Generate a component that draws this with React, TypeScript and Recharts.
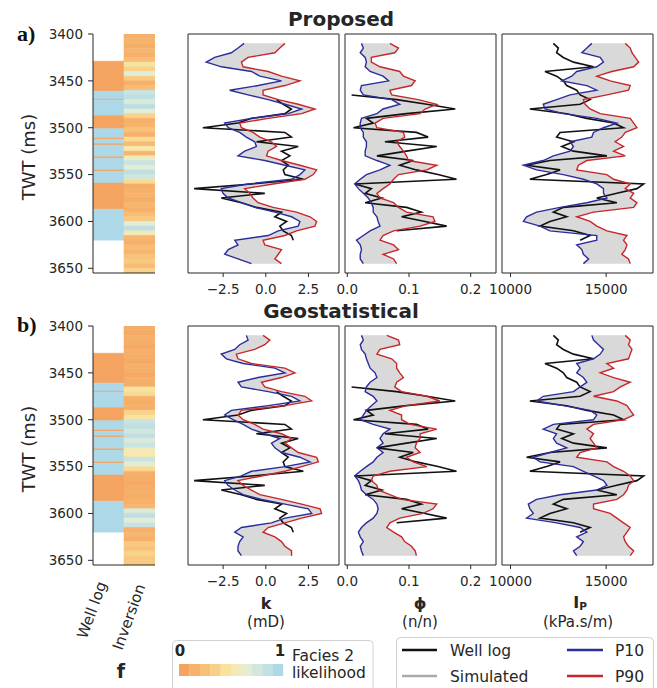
import React from 'react';
import { ComposedChart, Line, Area, XAxis, YAxis, ReferenceArea } from 'recharts';

// depth samples (TWT, ms) for all log curves
const depth = [
  3410, 3415, 3420, 3425, 3430, 3435, 3440, 3445, 3450, 3455, 3460, 3465, 3470, 3475, 3480, 3485,
  3490, 3495, 3500, 3505, 3510, 3515, 3520, 3525, 3530, 3535, 3540, 3545, 3550, 3555, 3560, 3565,
  3570, 3575, 3580, 3585, 3590, 3595, 3600, 3605, 3610, 3615, 3620, 3625, 3630, 3635, 3640, 3645,
];

// well log (same in both rows)
const kWell = [
  null, null, null, null, null, null, null, null, null, null, null, null,
  0.63, 1.02, 1.5, 1.12, -0.84, -1.63, -3.69, 1.12, 1.5, -0.55, 1.9, 0.92, 1.41, 0.92, 1.31, 1.02,
  1.12, 2.2, -0.84, -4.2, -0.06, -2.61, -1.43, -0.55, 0.92, 0.53, 1.22, 0.82, 1.02, 1.5, 1.61,
  null, null, null, null, null,
];
const phiWell = [
  null, null, null, null, null, null, null, null, null, null, null,
  0.007, 0.08, 0.129, 0.175, 0.096, 0.031, 0.042, 0.01, 0.112, 0.131, 0.061, 0.145, 0.096, 0.048,
  0.107, 0.085, 0.112, 0.147, 0.177, 0.012, 0.039, 0.029, 0.056, 0.029, 0.096, 0.12, 0.088, 0.126,
  0.161, 0.08,
  null, null, null, null, null, null, null,
];
const ipWell = [
  12240, 12500, 12410, 12760, 13290, 14340, 11800, 12410, 12760, 12940, 13460, 13640, 14160, 13640,
  11010, 12940, 13990, 15390, 15910, 12590, 12410, 13290, 12680, 13290, 15040, 12060, 10840, 12590,
  11890, 11010, 16960, 16610, 15560, 14510, 15560, 12760, 12240, 12940, 12060, 11540, 13290, 14160,
  13640, null, null, null, null, null,
];

// a) Proposed
const kP10Prop = [
  -1.27, -1.63, -2.02, -3.0, -3.49, -2.6, -0.84, -0.35, 0.92, -0.45, -2.12, -1.04, 0.14, 1.12, 2.1, 1.31,
  -0.84, -2.41, -2.2, -1.53, -1.14, -0.65, -0.55, -1.24, -1.63, -0.06, 1.12, 2.29, 2.0, 1.51, -1.04, -2.61,
  -2.51, -2.2, -1.43, -0.65, 0.53, 1.51, 2.0, 1.9, 0.73, 0.14, -1.82, -1.63, -2.2, -2.41, -1.63, -0.84,
];
const kP90Prop = [
  1.12, 0.82, 0.53, -1.04, -1.43, -1.33, 0.14, 0.92, 2.0, 1.12, -0.16, -0.16, 0.73, 1.9, 2.88, 2.1,
  0.14, -1.53, -1.43, -0.75, -0.35, 0.33, 0.63, 0.14, 0.04, 0.92, 2.0, 2.98, 2.78, 2.29, 0.43, -1.24,
  -0.94, -0.75, -0.45, 0.43, 1.8, 2.59, 2.98, 2.88, 1.8, 1.12, -0.16, -0.06, 0.92, 0.73, 0.53, 0.92,
];
const phiP10Prop = [
  0.023, 0.026, 0.021, 0.029, 0.031, 0.029, 0.037, 0.058, 0.067, 0.023, 0.021, 0.026, 0.072, 0.085, 0.058, 0.048,
  0.023, 0.021, 0.021, 0.026, 0.026, 0.031, 0.031, 0.029, 0.029, 0.048, 0.069, 0.053, 0.031, 0.021, 0.012, 0.018,
  0.026, 0.034, 0.039, 0.042, 0.042, 0.048, 0.05, 0.053, 0.037, 0.026, 0.015, 0.021, 0.023, 0.021, 0.021, 0.026,
];
const phiP90Prop = [
  0.069, 0.083, 0.077, 0.039, 0.039, 0.053, 0.085, 0.091, 0.11, 0.104, 0.069, 0.072, 0.115, 0.145, 0.126, 0.118,
  0.058, 0.045, 0.048, 0.091, 0.093, 0.08, 0.085, 0.091, 0.096, 0.099, 0.145, 0.129, 0.083, 0.075, 0.069, 0.058,
  0.048, 0.053, 0.075, 0.083, 0.096, 0.139, 0.142, 0.118, 0.075, 0.058, 0.053, 0.075, 0.083, 0.058, 0.075, 0.08,
];
const ipP10Prop = [
  14250, 13990, 13730, 14690, 14860, 14510, 13460, 13200, 12680, 13990, 14510, 13110, 12410, 11710, 11800, 12760,
  14510, 15560, 14860, 14340, 14250, 13110, 13290, 13110, 12240, 11710, 10670, 11360, 12760, 13810, 14510, 14860,
  14860, 15040, 13990, 12590, 11360, 10840, 10670, 11540, 12060, 14510, 14510, 13460, 13730, 13810, 14080, 13810,
];
const ipP90Prop = [
  16000, 16260, 16350, 16520, 16700, 16440, 15300, 14510, 15210, 16260, 16170, 15040, 13810, 13900, 14160, 14690,
  16260, 16440, 16610, 16000, 15820, 15470, 15910, 15390, 16000, 13990, 13550, 13460, 15040, 15390, 16260, 16000,
  16440, 16260, 16610, 16440, 14340, 13460, 14160, 14510, 15040, 16090, 15910, 16090, 16000, 15820, 16170, 16260,
];

// b) Geostatistical
const kP10Geo = [
  -1.14, -1.04, -1.53, -1.82, -2.61, -2.31, -1.33, 0.53, 1.12, -0.45, -1.63, -1.43, 0.14, 1.51, 2.0, 0.14,
  -2.02, -2.41, -1.92, -1.33, -0.84, -0.06, 0.82, 0.33, 0.53, 0.92, 2.0, 2.59, 1.12, -0.84, -1.43, -2.41,
  -2.22, -1.82, -1.33, -0.25, 1.12, 2.49, 2.69, 1.12, 0.33, -1.43, -1.82, -1.33, -1.53, -1.63, -1.63, -1.43,
];
const kP90Geo = [
  -0.16, 0.24, -0.06, -0.65, -1.73, -1.63, -0.84, 1.12, 1.71, 0.92, -0.25, -0.06, 0.92, 2.29, 2.69, 1.12,
  -1.43, -1.63, -1.33, -0.65, -0.16, 0.92, 1.51, 1.12, 1.51, 1.9, 2.98, 3.08, 2.1, 1.12, -0.25, -1.63,
  -1.33, -0.84, -0.35, 0.92, 2.1, 3.18, 3.27, 2.1, 1.12, 0.14, -0.16, 0.53, 0.92, 1.12, 1.51, 1.51,
];
const phiP10Geo = [
  0.023, 0.026, 0.021, 0.023, 0.029, 0.031, 0.034, 0.037, 0.045, 0.048, 0.037, 0.031, 0.029, 0.042, 0.048, 0.039,
  0.031, 0.026, 0.021, 0.042, 0.069, 0.058, 0.053, 0.058, 0.048, 0.058, 0.048, 0.042, 0.031, 0.021, 0.012, 0.018,
  0.021, 0.023, 0.031, 0.042, 0.048, 0.05, 0.048, 0.042, 0.031, 0.023, 0.018, 0.021, 0.026, 0.021, 0.023, 0.026,
];
const phiP90Geo = [
  0.064, 0.083, 0.085, 0.053, 0.048, 0.072, 0.08, 0.08, 0.085, 0.091, 0.08, 0.077, 0.088, 0.129, 0.15, 0.096,
  0.069, 0.088, 0.088, 0.102, 0.145, 0.118, 0.118, 0.112, 0.11, 0.118, 0.096, 0.107, 0.129, 0.069, 0.042, 0.039,
  0.048, 0.05, 0.069, 0.088, 0.145, 0.139, 0.123, 0.085, 0.069, 0.064, 0.075, 0.088, 0.093, 0.104, 0.11, 0.112,
];
const ipP10Geo = [
  14250, 14340, 14600, 14860, 14690, 14340, 13460, 13640, 13460, 13810, 13990, 13640, 13290, 11710, 11360, 12760,
  14160, 14510, 14340, 12240, 11710, 12410, 12240, 12410, 12940, 12060, 11190, 11540, 13290, 13810, 14340, 14860,
  15040, 14510, 12590, 11360, 10930, 11010, 11190, 10840, 12410, 13640, 13990, 13460, 13810, 13640, 13290, 13460,
];
const ipP90Geo = [
  16000, 16260, 16170, 16350, 16260, 16170, 15040, 15390, 14690, 15390, 16260, 15740, 15390, 14340, 15560, 16090,
  16260, 16440, 15910, 14340, 13990, 14340, 14160, 14340, 14510, 13640, 13460, 15040, 15390, 15910, 16260, 16440,
  16170, 16090, 15910, 15560, 14340, 14340, 15210, 15560, 15910, 16260, 16090, 15910, 16000, 16170, 16440, 16260,
];

// facies: well log intervals (1 = facies 1, 2 = facies 2)
const faciesTop = [3429, 3461, 3469.5, 3470.5, 3487, 3501, 3511, 3512.5, 3517, 3518.5, 3531, 3532.5, 3545, 3546.5, 3559, 3587];
const faciesBase = [3461, 3469.5, 3470.5, 3487, 3501, 3511, 3512.5, 3517, 3518.5, 3531, 3532.5, 3545, 3546.5, 3559, 3587, 3620];
const faciesCode = [1, 2, 1, 2, 1, 2, 1, 2, 1, 2, 1, 2, 1, 2, 1, 2];

// facies 2 likelihood from inversion, 5 ms cells
const cellTop = [
  3400, 3405, 3410, 3415, 3420, 3425, 3430, 3435, 3440, 3445, 3450, 3455, 3460, 3465, 3470, 3475, 3480,
  3485, 3490, 3495, 3500, 3505, 3510, 3515, 3520, 3525, 3530, 3535, 3540, 3545, 3550, 3555, 3560, 3565,
  3570, 3575, 3580, 3585, 3590, 3595, 3600, 3605, 3610, 3615, 3620, 3625, 3630, 3635, 3640, 3645, 3650,
];
const likeProp = [
  0.1, 0.12, 0.08, 0.15, 0.1, 0.2, 0.45, 0.35, 0.7, 0.3, 0.1, 0.2, 0.85, 0.9, 0.75, 0.92, 0.7,
  0.35, 0.1, 0.12, 0.25, 0.1, 0.4, 0.2, 0.5, 0.15, 0.6, 0.85, 0.7, 0.9, 0.8, 0.4, 0.08, 0.1,
  0.12, 0.08, 0.15, 0.1, 0.2, 0.3, 0.7, 0.9, 0.55, 0.15, 0.1, 0.2, 0.15, 0.25, 0.3, 0.2, 0.35,
];
const likeGeo = [
  0.08, 0.05, 0.1, 0.08, 0.05, 0.1, 0.08, 0.05, 0.1, 0.08, 0.05, 0.1, 0.08, 0.45, 0.4, 0.1, 0.08,
  0.1, 0.35, 0.45, 0.85, 0.9, 0.8, 0.9, 0.75, 0.85, 0.55, 0.5, 0.85, 0.7, 0.4, 0.1, 0.08, 0.05,
  0.08, 0.1, 0.08, 0.1, 0.15, 0.75, 0.9, 0.7, 0.85, 0.1, 0.15, 0.1, 0.3, 0.25, 0.35, 0.3, 0.3,
];

const legendSteps = [0, 0.11, 0.22, 0.33, 0.44, 0.56, 0.67, 0.78, 0.89, 1];

const INK = '#262626';
const BLUE = '#2b2d9c';
const RED = '#c8262b';
const FONT = '"DejaVu Sans", sans-serif';
const Y_DOMAIN: [number, number] = [3400, 3655];
const PLOT_H = 239;
const PLOT_W = 151;
const PAD = 24;
const TOP_PAD = 12;
const AXIS_H = 32;

const stops: [number, number[]][] = [
  [0, [244, 164, 96]],
  [0.28, [249, 198, 124]],
  [0.48, [249, 232, 166]],
  [0.7, [226, 237, 216]],
  [1, [173, 216, 232]],
];

function likeColor(v: number) {
  for (let i = 1; i < stops.length; i++) {
    if (v <= stops[i][0]) {
      const [a, ca] = stops[i - 1];
      const [b, cb] = stops[i];
      const f = (v - a) / (b - a);
      const c = ca.map((x, j) => Math.round(x + (cb[j] - x) * f));
      return `rgb(${c[0]},${c[1]},${c[2]})`;
    }
  }
  return 'rgb(173,216,232)';
}

const tickText = { fontSize: 13.5, fill: INK, fontFamily: FONT };

interface LogPanelProps {
  left: number;
  top: number;
  domain: [number, number];
  ticks: number[];
  fmt: (v: number) => string;
  well: (number | null)[];
  p10: number[];
  p90: number[];
}

function LogPanel({ left, top, domain, ticks, fmt, well, p10, p90 }: LogPanelProps) {
  const data = depth.map((t, i) => ({
    t,
    well: well[i],
    p10: p10[i],
    p90: p90[i],
    band: [Math.min(p10[i], p90[i]), Math.max(p10[i], p90[i])],
  }));
  return (
    <div style={{ position: 'absolute', left: left - PAD, top: top - TOP_PAD }}>
      <ComposedChart
        layout="vertical"
        width={PLOT_W + 2 * PAD}
        height={PLOT_H + TOP_PAD + AXIS_H}
        data={data}
        margin={{ top: TOP_PAD, right: PAD, bottom: 0, left: PAD }}
      >
        <XAxis
          type="number"
          domain={domain}
          allowDataOverflow
          ticks={ticks}
          interval={0}
          tickFormatter={fmt}
          axisLine={false}
          tickSize={4}
          tickMargin={7}
          height={AXIS_H}
          tick={tickText}
          tickLine={{ stroke: INK }}
        />
        <YAxis type="number" dataKey="t" domain={Y_DOMAIN} allowDataOverflow hide />
        <Area dataKey="band" stroke="none" fill="#d2d2d2" fillOpacity={0.85} isAnimationActive={false} />
        <Line dataKey="well" stroke="#111111" strokeWidth={1.6} dot={false} isAnimationActive={false} />
        <Line dataKey="p10" stroke={BLUE} strokeWidth={1.4} dot={false} isAnimationActive={false} />
        <Line dataKey="p90" stroke={RED} strokeWidth={1.4} dot={false} isAnimationActive={false} />
        <ReferenceArea
          x1={domain[0]}
          x2={domain[1]}
          y1={Y_DOMAIN[0]}
          y2={Y_DOMAIN[1]}
          fill="none"
          stroke={INK}
          strokeWidth={1}
          ifOverflow="visible"
        />
      </ComposedChart>
    </div>
  );
}

function FaciesPanel({ top, like }: { top: number; like: number[] }) {
  const data = cellTop.map((t, i) => ({ t, v: like[i] }));
  return (
    <div style={{ position: 'absolute', left: 93 - 60, top: top - TOP_PAD }}>
      <ComposedChart
        layout="vertical"
        width={60 + 62 + 10}
        height={PLOT_H + TOP_PAD + AXIS_H}
        data={data}
        margin={{ top: TOP_PAD, right: 10, bottom: 0, left: 0 }}
      >
        {faciesTop.map((t, i) => {
          const c = faciesCode[i] === 2 ? '#add8e8' : '#f4a460';
          return (
            <ReferenceArea
              key={`w${i}`}
              x1={0}
              x2={1}
              y1={t}
              y2={faciesBase[i]}
              fill={c}
              fillOpacity={1}
              stroke={c}
              strokeWidth={0.5}
              ifOverflow="hidden"
            />
          );
        })}
        {cellTop.map((t, i) => {
          const c = likeColor(like[i]);
          return (
            <ReferenceArea
              key={`i${i}`}
              x1={1}
              x2={2}
              y1={t}
              y2={cellTop[i + 1] ?? Y_DOMAIN[1]}
              fill={c}
              fillOpacity={1}
              stroke={c}
              strokeWidth={0.6}
              ifOverflow="hidden"
            />
          );
        })}
        <XAxis
          type="number"
          domain={[0, 2]}
          allowDataOverflow
          ticks={[0, 2]}
          interval={0}
          tick={false}
          tickSize={5}
          height={AXIS_H}
          axisLine={{ stroke: INK }}
          tickLine={{ stroke: INK }}
        />
        <YAxis
          type="number"
          dataKey="t"
          domain={Y_DOMAIN}
          allowDataOverflow
          ticks={[3400, 3450, 3500, 3550, 3600, 3650]}
          interval={0}
          width={60}
          tickSize={5}
          tickMargin={5}
          tick={tickText}
          axisLine={{ stroke: INK }}
          tickLine={{ stroke: INK }}
        />
      </ComposedChart>
    </div>
  );
}

const fmtK = (v: number) => (v < 0 ? `\u2212${Math.abs(v).toFixed(1)}` : v.toFixed(1));
const fmtPhi = (v: number) => v.toFixed(1);
const fmtIp = (v: number) => String(v);

const K_DOM: [number, number] = [-4.56, 4.29];
const PHI_DOM: [number, number] = [-0.0037, 0.241];
const IP_DOM: [number, number] = [9554, 17450];

function Row({ top, like, k10, k90, f10, f90, i10, i90 }: {
  top: number; like: number[]; k10: number[]; k90: number[]; f10: number[]; f90: number[]; i10: number[]; i90: number[];
}) {
  return (
    <>
      <FaciesPanel top={top} like={like} />
      <LogPanel left={188} top={top} domain={K_DOM} ticks={[-2.5, 0, 2.5]} fmt={fmtK} well={kWell} p10={k10} p90={k90} />
      <LogPanel left={345} top={top} domain={PHI_DOM} ticks={[0, 0.1, 0.2]} fmt={fmtPhi} well={phiWell} p10={f10} p90={f90} />
      <LogPanel left={502} top={top} domain={IP_DOM} ticks={[10000, 15000]} fmt={fmtIp} well={ipWell} p10={i10} p90={i90} />
    </>
  );
}

function Annotations() {
  const txt = { fill: INK, fontFamily: FONT };
  return (
    <svg width={657} height={688} style={{ position: 'absolute', left: 0, top: 0, pointerEvents: 'none' }}>
      <text x={17} y={41} fontFamily='"Liberation Serif", serif' fontWeight="bold" fontSize={22} fill="#111">a)</text>
      <text x={17} y={331.5} fontFamily='"Liberation Serif", serif' fontWeight="bold" fontSize={22} fill="#111">b)</text>
      <text x={341} y={26} textAnchor="middle" fontSize={20} fontWeight="bold" {...txt}>Proposed</text>
      <text x={341} y={318} textAnchor="middle" fontSize={20} fontWeight="bold" {...txt}>Geostatistical</text>
      <text transform="translate(34.5,157) rotate(-90)" textAnchor="middle" fontSize={18} {...txt}>TWT (ms)</text>
      <text transform="translate(34.5,449) rotate(-90)" textAnchor="middle" fontSize={18} {...txt}>TWT (ms)</text>

      <text transform="translate(92,610) rotate(-70)" textAnchor="middle" dominantBaseline="central" fontSize={15} {...txt}>Well log</text>
      <text transform="translate(129,617) rotate(-70)" textAnchor="middle" dominantBaseline="central" fontSize={15} {...txt}>Inversion</text>
      <text x={121} y={678} textAnchor="middle" fontSize={19} fontWeight="bold" {...txt}>f</text>

      <text x={266} y={608.5} textAnchor="middle" fontSize={16} fontWeight="bold" {...txt}>k</text>
      <text x={266} y={627} textAnchor="middle" fontSize={15} {...txt}>(mD)</text>
      <text x={420} y={608.5} textAnchor="middle" fontSize={16} fontWeight="bold" {...txt}>{'\u03d5'}</text>
      <text x={420} y={627} textAnchor="middle" fontSize={15} {...txt}>(n/n)</text>
      <text x={580} y={607.5} textAnchor="middle" fontSize={16} fontWeight="bold" {...txt}>
        I<tspan fontSize={10.5} dy={2}>P</tspan>
      </text>
      <text x={578} y={627} textAnchor="middle" fontSize={15} {...txt}>(kPa.s/m)</text>

      {/* facies likelihood legend */}
      <rect x={172.5} y={640.5} width={200.5} height={60} rx={4} fill="#fff" stroke="#d0d0d0" />
      <text x={180} y={656.4} textAnchor="middle" fontSize={15} fontWeight="bold" {...txt}>0</text>
      <text x={280} y={656.4} textAnchor="middle" fontSize={15} fontWeight="bold" {...txt}>1</text>
      {legendSteps.map((v, i) => (
        <rect key={i} x={179 + i * 10.4} y={664} width={10.6} height={12} fill={likeColor(v)} />
      ))}
      <text x={292} y={660.5} fontSize={15.5} {...txt}>Facies 2</text>
      <text x={292} y={677.5} fontSize={15.5} {...txt}>likelihood</text>

      {/* curves legend */}
      <rect x={396.5} y={637.5} width={257} height={60} rx={4} fill="#fff" stroke="#d0d0d0" />
      <line x1={402} x2={437} y1={650} y2={650} stroke="#111" strokeWidth={2.5} />
      <text x={450} y={655.6} fontSize={15.5} {...txt}>Well log</text>
      <line x1={402} x2={437} y1={676} y2={676} stroke="#aaaaaa" strokeWidth={2.5} />
      <text x={450} y={681.6} fontSize={15.5} {...txt}>Simulated</text>
      <line x1={567} x2={603} y1={650} y2={650} stroke={BLUE} strokeWidth={2.5} />
      <text x={615} y={655.6} fontSize={15.5} {...txt}>P10</text>
      <line x1={567} x2={603} y1={676} y2={676} stroke={RED} strokeWidth={2.5} />
      <text x={615} y={681.6} fontSize={15.5} {...txt}>P90</text>
    </svg>
  );
}

export default function App() {
  return (
    <div
      style={{
        position: 'absolute',
        left: 0,
        top: 0,
        width: 657,
        height: 688,
        overflow: 'hidden',
        background: '#fff',
        fontFamily: FONT,
      }}
    >
      <Row top={34} like={likeProp} k10={kP10Prop} k90={kP90Prop} f10={phiP10Prop} f90={phiP90Prop} i10={ipP10Prop} i90={ipP90Prop} />
      <Row top={326} like={likeGeo} k10={kP10Geo} k90={kP90Geo} f10={phiP10Geo} f90={phiP90Geo} i10={ipP10Geo} i90={ipP90Geo} />
      <Annotations />
    </div>
  );
}
